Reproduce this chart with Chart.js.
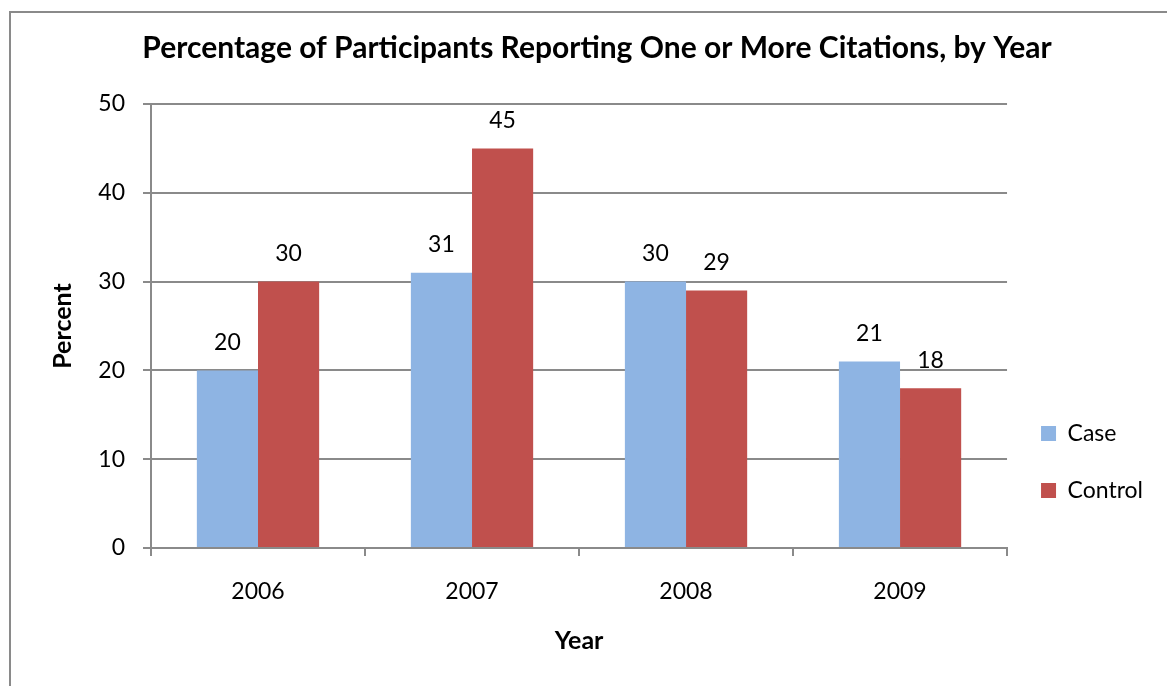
<!DOCTYPE html>
<html>
<head>
<meta charset="utf-8">
<title>Citations by Year</title>
<script src="https://cdn.jsdelivr.net/npm/chart.js@4"></script>
<style>
  html, body { margin: 0; padding: 0; background: #fff; overflow: hidden; }
  canvas { display: block; }
</style>
</head>
<body>
<canvas id="citationsChart" width="1167" height="686"></canvas>
<script>
// Datos del gráfico
const years = ['2006', '2007', '2008', '2009'];
const caseValues = [20, 31, 30, 21];
const controlValues = [30, 45, 29, 18];
const yTicks = [0, 10, 20, 30, 40, 50];

const gridGray = '#8a8a8a';

// Marco gris alrededor del gráfico
const framePlugin = {
    id: 'frame',
    beforeDraw(chart) {
        const ctx = chart.ctx;
        ctx.save();
        ctx.strokeStyle = gridGray;
        ctx.lineWidth = 2;
        ctx.strokeRect(10, 12, chart.width + 50, chart.height + 50);
        ctx.restore();
    }
};

// Valores encima de cada barra
const valueLabelsPlugin = {
    id: 'valueLabels',
    afterDatasetsDraw(chart) {
        const ctx = chart.ctx;
        ctx.save();
        ctx.font = '23px Lato';
        ctx.fillStyle = '#000';
        ctx.textAlign = 'center';
        ctx.textBaseline = 'middle';
        chart.data.datasets.forEach((ds, i) => {
            chart.getDatasetMeta(i).data.forEach((bar, j) => {
                ctx.fillText(String(ds.data[j]), bar.x, bar.y - 28);
            });
        });
        ctx.restore();
    }
};

// Subir un poco la leyenda
const legendShiftPlugin = {
    id: 'legendShift',
    afterLayout(chart) {
        if (chart.legend) {
            chart.legend.top -= 12;
            chart.legend.bottom -= 12;
        }
    }
};

Chart.defaults.font.family = 'Lato';
Chart.defaults.color = '#000';

new Chart(document.getElementById('citationsChart'), {
    type: 'bar',
    data: {
        labels: years,
        datasets: [{
            label: 'Case',
            data: caseValues,
            backgroundColor: '#8eb4e3'
        }, {
            label: 'Control',
            data: controlValues,
            backgroundColor: '#c0504d'
        }]
    },
    options: {
        responsive: false,
        animation: false,
        categoryPercentage: 2 / 3.5,
        barPercentage: 1,
        layout: { padding: { left: 41, right: 14, top: 0, bottom: 0 } },
        plugins: {
            title: {
                display: true,
                text: 'Percentage of Participants Reporting One or More Citations, by Year',
                font: { size: 30, weight: 'bold' },
                color: '#000',
                padding: { top: 30, bottom: 38 }
            },
            legend: {
                position: 'right',
                align: 'end',
                fullSize: false,
                labels: {
                    boxWidth: 15,
                    boxHeight: 15,
                    padding: 34,
                    font: { size: 23 },
                    color: '#000'
                }
            },
            tooltip: { enabled: false }
        },
        scales: {
            x: {
                grid: {
                    drawOnChartArea: false,
                    drawTicks: true,
                    tickLength: 8,
                    color: gridGray,
                    lineWidth: 2
                },
                border: { color: gridGray, width: 2 },
                ticks: { font: { size: 23 }, padding: 22, color: '#000' },
                title: {
                    display: true,
                    text: 'Year',
                    font: { size: 25, weight: 'bold' },
                    color: '#000',
                    padding: { top: 0, bottom: 30 }
                },
                afterFit(scale) { scale.height = 138; }
            },
            y: {
                min: yTicks[0],
                max: yTicks[yTicks.length - 1],
                ticks: {
                    stepSize: yTicks[1] - yTicks[0],
                    font: { size: 23 },
                    padding: 18,
                    color: '#000'
                },
                grid: {
                    color: gridGray,
                    lineWidth: 2,
                    tickLength: 8
                },
                border: { color: gridGray, width: 2 },
                title: {
                    display: true,
                    text: 'Percent',
                    font: { size: 25, weight: 'bold' },
                    color: '#000',
                    padding: { top: 7, bottom: 0 }
                },
                afterFit(scale) { scale.width = 110; }
            }
        }
    },
    plugins: [framePlugin, valueLabelsPlugin, legendShiftPlugin]
});
</script>
</body>
</html>
